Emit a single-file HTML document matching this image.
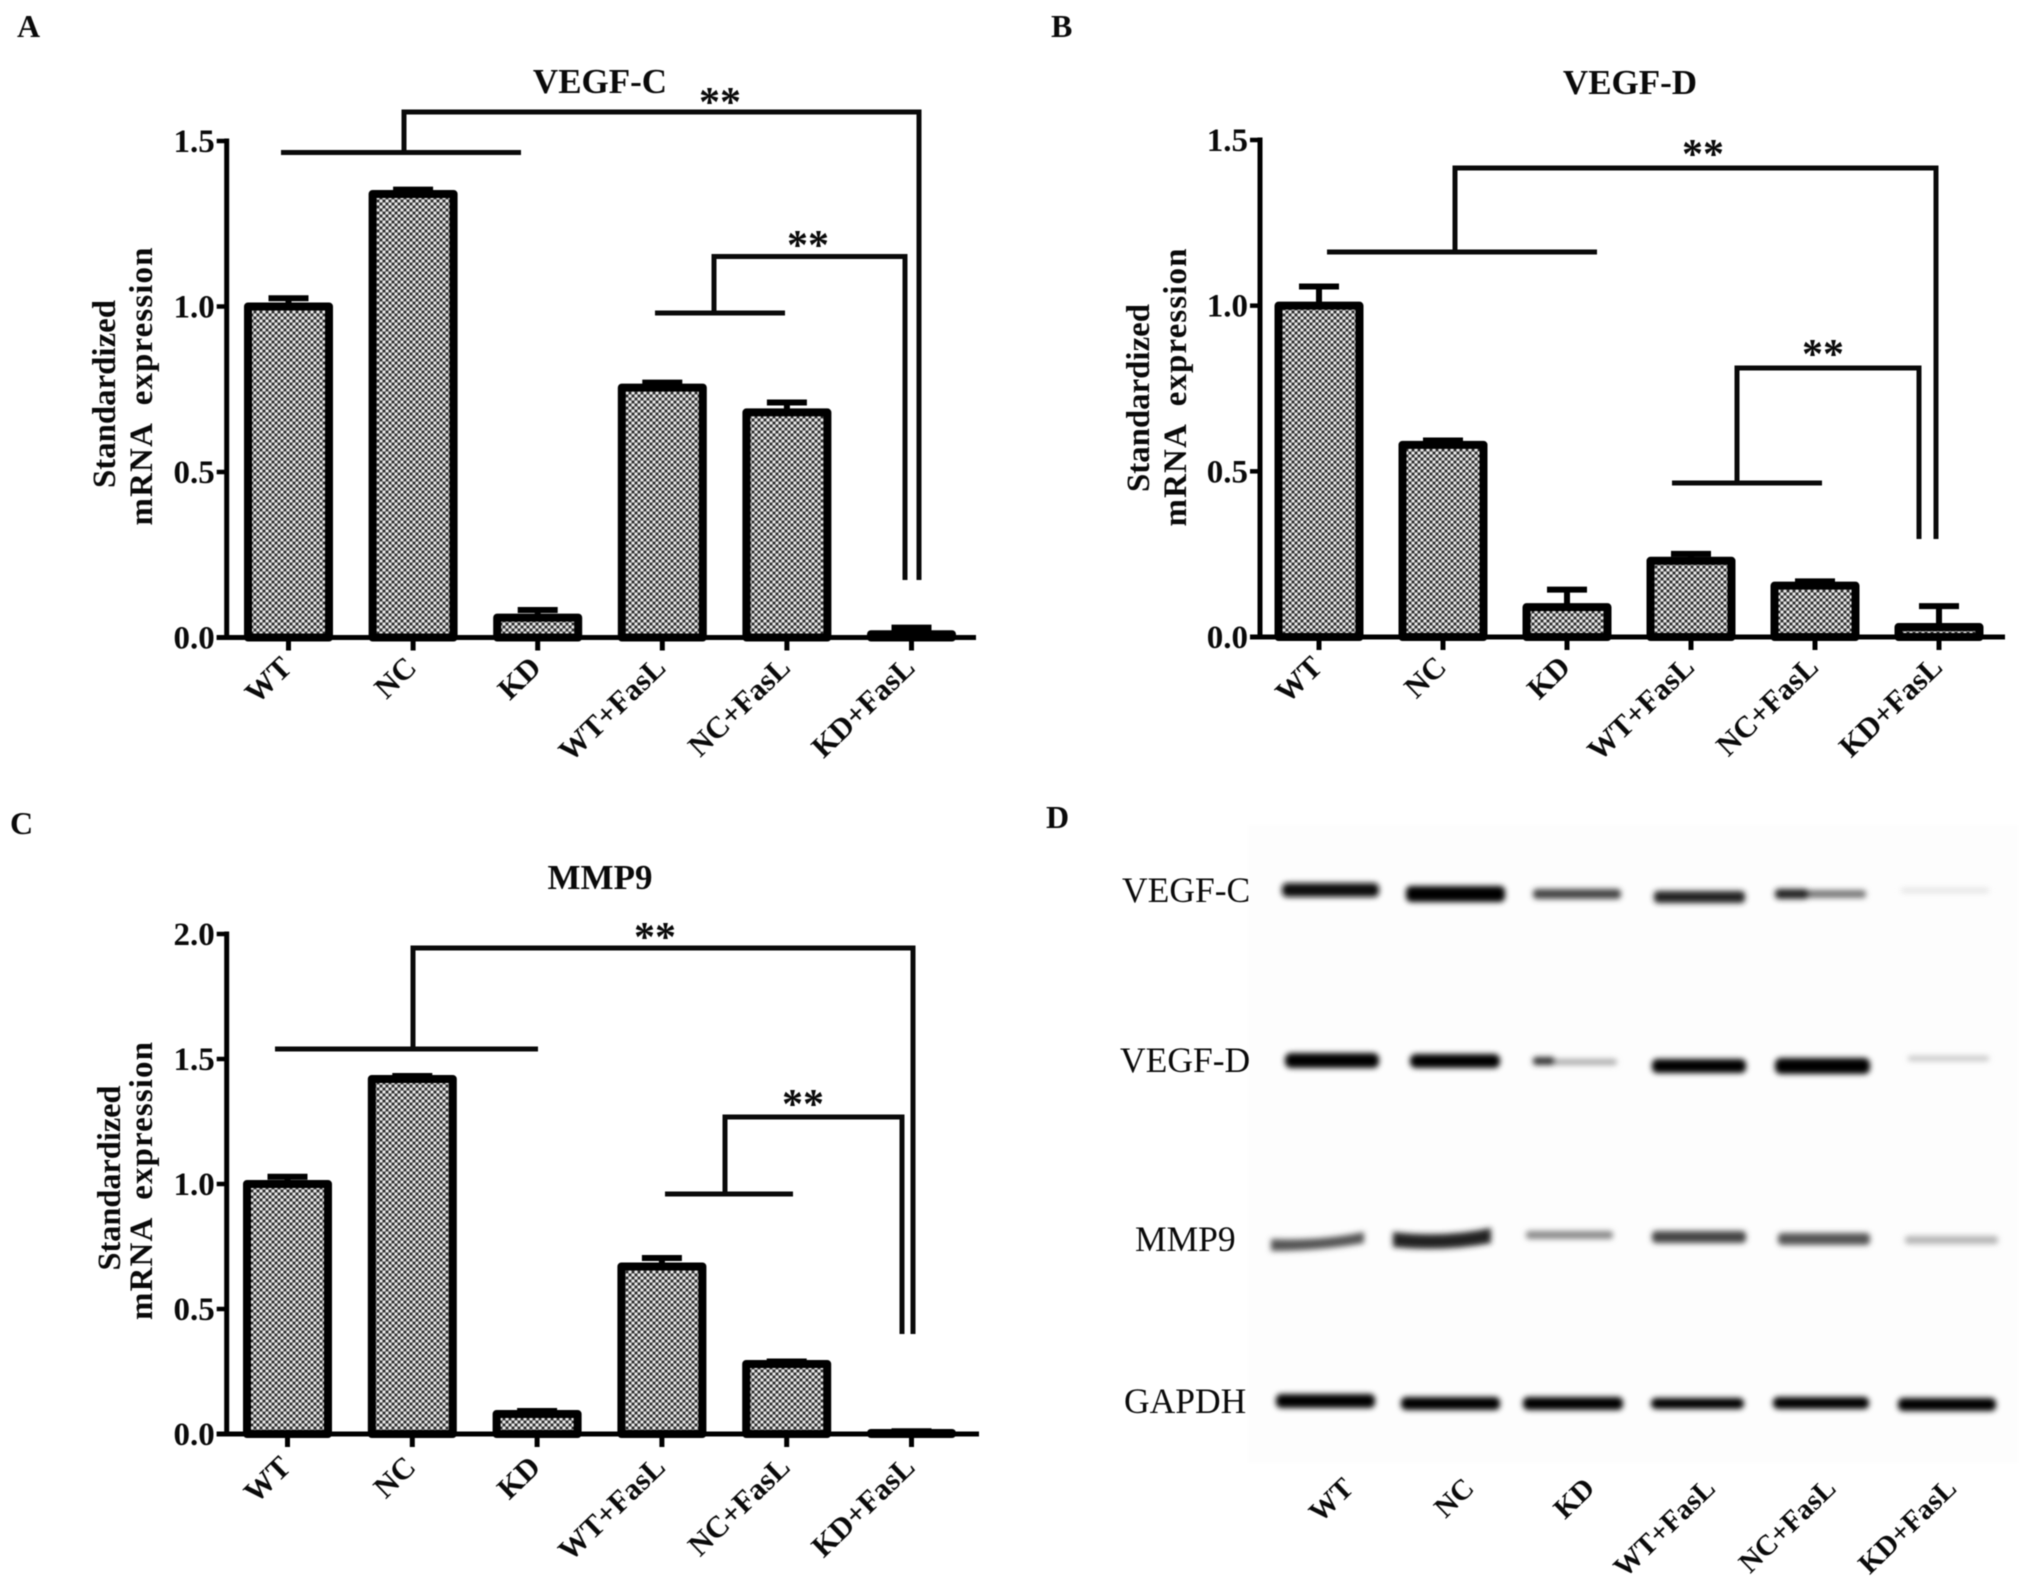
<!DOCTYPE html>
<html>
<head>
<meta charset="utf-8">
<title>VEGF-C, VEGF-D and MMP9 expression</title>
<style>
html,body{margin:0;padding:0;background:#fff;width:2031px;height:1584px;overflow:hidden}
svg{display:block;filter:blur(0.6px)}
text{font-family:"Liberation Serif",serif;fill:#0a0a0a}
.b{font-weight:bold}
</style>
</head>
<body>
<svg id="fig" xmlns="http://www.w3.org/2000/svg" width="2031" height="1584" viewBox="0 0 2031 1584">
<defs>
<pattern id="dots" width="6" height="6" patternUnits="userSpaceOnUse">
<rect width="6" height="6" fill="#6e6e6e"/>
<circle cx="0" cy="0" r="1.5" fill="#eee"/><circle cx="6" cy="0" r="1.5" fill="#eee"/>
<circle cx="0" cy="6" r="1.5" fill="#eee"/><circle cx="6" cy="6" r="1.5" fill="#eee"/>
<circle cx="3" cy="3" r="1.5" fill="#eee"/>
<circle cx="3" cy="0" r="1.2" fill="#222"/><circle cx="3" cy="6" r="1.2" fill="#222"/>
<circle cx="0" cy="3" r="1.2" fill="#222"/><circle cx="6" cy="3" r="1.2" fill="#222"/>
</pattern>
<filter id="soft" x="-10%" y="-100%" width="120%" height="300%"><feGaussianBlur stdDeviation="3"/></filter>
</defs>
<rect width="2031" height="1584" fill="#fff"/>

<text class="b" x="17" y="37" font-size="32">A</text>
<text class="b" x="1051" y="37" font-size="32">B</text>
<text class="b" x="10" y="834" font-size="32">C</text>
<text class="b" x="1046" y="828" font-size="32">D</text>

<g id="panelA"></g>
<g id="panelB"></g>
<g id="panelC"></g>

<g fill="none" stroke="#0a0a0a" stroke-width="5">
<path d="M281 152.5H521M404 152.5V112H919V580"/>
<path d="M655 313H785M714 313V256.5H905V580"/>
<path d="M1327 252H1597M1455 252V168H1936V539"/>
<path d="M1672 483H1822M1737 483V368H1919V539"/>
<path d="M275 1049H538M413 1049V948H913V1334"/>
<path d="M665 1194H793M725 1194V1117H902V1334"/>
</g>
<g font-size="42" font-weight="bold" text-anchor="middle">
<text x="720" y="116">**</text>
<text x="808" y="259">**</text>
<text x="1703" y="168">**</text>
<text x="1823" y="368">**</text>
<text x="655" y="951">**</text>
<text x="803" y="1118">**</text>
</g>

<g>
<rect x="1248" y="825" width="770" height="638" fill="#fdfdfd"/>
<g filter="url(#soft)">
<g>
<rect x="1282" y="883" width="97" height="14" rx="5" fill="#111"/>
<rect x="1406" y="886" width="99" height="16" rx="5" fill="#000"/>
<rect x="1533" y="889" width="88" height="10" rx="4" fill="#444"/>
<rect x="1654" y="891" width="91" height="12" rx="4" fill="#222"/>
<rect x="1775" y="890" width="91" height="8" rx="3" fill="#777"/>
<rect x="1775" y="889" width="34" height="10" rx="4" fill="#222"/>
<rect x="1901" y="888" width="88" height="5" rx="2" fill="#e4e4e4"/>
</g>
<g>
<rect x="1285" y="1053" width="94" height="15" rx="6" fill="#000"/>
<rect x="1410" y="1054" width="90" height="14" rx="6" fill="#000"/>
<rect x="1533" y="1059" width="84" height="6" rx="3" fill="#aaa"/>
<rect x="1533" y="1057" width="22" height="8" rx="3" fill="#333"/>
<rect x="1652" y="1059" width="94" height="14" rx="5" fill="#000"/>
<rect x="1775" y="1058" width="95" height="16" rx="6" fill="#000"/>
<rect x="1908" y="1056" width="81" height="5" rx="2" fill="#c4c4c4"/>
</g>
<g>
<path d="M1271 1239Q1320 1241 1364 1232V1243Q1320 1251 1271 1251Z" fill="#555"/>
<path d="M1393 1232Q1445 1238 1491 1228V1243Q1445 1252 1393 1247Z" fill="#222"/>
<rect x="1526" y="1231" width="87" height="8" rx="3" fill="#888"/>
<rect x="1652" y="1231" width="94" height="12" rx="4" fill="#444"/>
<rect x="1778" y="1233" width="92" height="12" rx="4" fill="#555"/>
<rect x="1905" y="1236" width="93" height="8" rx="3" fill="#b4b4b4"/>
</g>
<g>
<rect x="1276" y="1394" width="99" height="14" rx="5" fill="#000"/>
<rect x="1401" y="1397" width="99" height="13" rx="5" fill="#000"/>
<rect x="1523" y="1397" width="100" height="13" rx="5" fill="#000"/>
<rect x="1651" y="1398" width="93" height="11" rx="5" fill="#000"/>
<rect x="1773" y="1397" width="96" height="12" rx="5" fill="#000"/>
<rect x="1898" y="1398" width="98" height="13" rx="5" fill="#000"/>
</g>
</g>
<g font-size="35.5" fill="#222">
<text x="1122" y="902">VEGF-C</text>
<text x="1120" y="1072">VEGF-D</text>
<text x="1135" y="1251">MMP9</text>
<text x="1124" y="1413">GAPDH</text>
</g>
<g id="blotLabels" class="b" font-size="29"></g>
</g>
</svg>

<script>
const categories = ['WT', 'NC', 'KD', 'WT+FasL', 'NC+FasL', 'KD+FasL'];
const vegfCValues = [1.0, 1.34, 0.06, 0.755, 0.68, 0.01];
const vegfCErrors = [0.022, 0.01, 0.02, 0.012, 0.027, 0.017];
const vegfCTicks = ['0.0', '0.5', '1.0', '1.5'];
const vegfDValues = [1.0, 0.58, 0.09, 0.23, 0.155, 0.03];
const vegfDErrors = [0.055, 0.01, 0.05, 0.018, 0.01, 0.06];
const vegfDTicks = ['0.0', '0.5', '1.0', '1.5'];
const mmp9Values = [1.0, 1.42, 0.08, 0.67, 0.28, 0.004];
const mmp9Errors = [0.025, 0.008, 0.008, 0.03, 0.006, 0.003];
const mmp9Ticks = ['0.0', '0.5', '1.0', '1.5', '2.0'];

const NS = 'http://www.w3.org/2000/svg';
function make(parent, tag, attrs, txt) {
  const el = document.createElementNS(NS, tag);
  for (const k in attrs) el.setAttribute(k, attrs[k]);
  if (txt !== undefined) el.textContent = txt;
  parent.appendChild(el);
  return el;
}

function drawPanel(o) {
  const root = document.getElementById(o.id);
  const yMax = parseFloat(o.ticks[o.ticks.length - 1]);
  const yScale = v => o.y0 - (o.y0 - o.yTop) * v / yMax;
  const xScale = i => o.x0 + o.step * i;
  const tag = o.tag;

  categories.forEach((c, i) => {
    const x = xScale(i), v = o.values[i], e = o.errors[i], bw = 81;
    const slug = c.toLowerCase().replace('+', '-');
    const errLine = make(root, 'path', {d: 'M' + x + ' ' + yScale(v) + 'V' + (yScale(v + e) - 1) + 'M' + (x - 20) + ' ' + (yScale(v + e) - 1) + 'H' + (x + 20), fill: 'none', stroke: '#000', 'stroke-width': 6});
    
    
    const bar = make(root, 'rect', {x: x - bw / 2, y: yScale(v), width: bw, height: o.y0 - yScale(v), fill: 'url(#dots)', stroke: '#000', 'stroke-width': 8, 'stroke-linejoin': 'round'});
    
    
    const tick = make(root, 'line', {x1: x, x2: x, y1: o.y0, y2: o.y0 + 13, stroke: '#000', 'stroke-width': 5});
    
    
    const lx = x + 5, ly = o.y0 + o.labelDy;
    const lab = make(root, 'text', {x: lx, y: ly, 'text-anchor': 'end', 'font-size': 30.5, 'font-weight': 'bold', transform: 'rotate(-44 ' + lx + ' ' + ly + ')'}, c);
    
    
  });

  const yAxis = make(root, 'line', {x1: o.x0Axis, x2: o.x0Axis, y1: o.yTop - 2.5, y2: o.y0 + 2.5, stroke: '#000', 'stroke-width': 5});
  
  
  const xAxis = make(root, 'line', {x1: o.x0Axis - 10, x2: o.xEnd, y1: o.y0, y2: o.y0, stroke: '#000', 'stroke-width': 5});
  
  

  o.ticks.forEach(t => {
    const y = yScale(parseFloat(t));
    const tk = make(root, 'line', {x1: o.x0Axis - 10, x2: o.x0Axis, y1: y, y2: y, stroke: '#000', 'stroke-width': 4.5});
    
    
    const tl = make(root, 'text', {x: o.x0Axis - 12, y: y + 11, 'text-anchor': 'end', 'font-size': 33, 'font-weight': 'bold'}, t);
    
    
  });

  const title = make(root, 'text', {x: o.titleX, y: o.titleY, 'text-anchor': 'middle', 'font-size': 35, 'font-weight': 'bold'}, o.title);
  
  

  const y1 = make(root, 'text', {x: o.yt1[0], y: o.yt1[1], 'text-anchor': 'middle', 'font-size': 33, 'font-weight': 'bold', textLength: o.yt1[2], lengthAdjust: 'spacingAndGlyphs', transform: 'rotate(-90 ' + o.yt1[0] + ' ' + o.yt1[1] + ')'}, 'Standardized');
  
  
  const y2 = make(root, 'text', {x: o.yt2[0], y: o.yt2[1], 'text-anchor': 'middle', 'font-size': 33, 'font-weight': 'bold', style: 'white-space:pre', textLength: o.yt2[2], lengthAdjust: 'spacing', transform: 'rotate(-90 ' + o.yt2[0] + ' ' + o.yt2[1] + ')'}, 'mRNA  expression');
  
  
}

drawPanel({id: 'panelA', tag: 'vegf-c', title: 'VEGF-C', titleX: 600, titleY: 93, labelDy: 32, values: vegfCValues, errors: vegfCErrors, ticks: vegfCTicks, x0: 288.5, step: 124.6, x0Axis: 226.7, xEnd: 976, y0: 637.5, yTop: 141, yt1: [115, 394, 188], yt2: [152, 386.5, 278]});
drawPanel({id: 'panelB', tag: 'vegf-d', title: 'VEGF-D', titleX: 1630, titleY: 94, labelDy: 32, values: vegfDValues, errors: vegfDErrors, ticks: vegfDTicks, x0: 1319, step: 124, x0Axis: 1260, xEnd: 2005, y0: 637, yTop: 140, yt1: [1149, 398, 188], yt2: [1186, 387.5, 278]});
drawPanel({id: 'panelC', tag: 'mmp9', title: 'MMP9', titleX: 600, titleY: 889, labelDy: 35, values: mmp9Values, errors: mmp9Errors, ticks: mmp9Ticks, x0: 287.5, step: 124.8, x0Axis: 226.7, xEnd: 979, y0: 1434, yTop: 934, yt1: [120, 1178, 185], yt2: [152, 1181, 278]});

const blotRoot = document.getElementById('blotLabels');
categories.forEach((c, i) => {
  const lx = 1355 + i * 120.6, ly = 1490;
  const t = make(blotRoot, 'text', {x: lx, y: ly, 'text-anchor': 'end', transform: 'rotate(-44 ' + lx + ' ' + ly + ')'}, c);
  
  
});
</script>
</body>
</html>
